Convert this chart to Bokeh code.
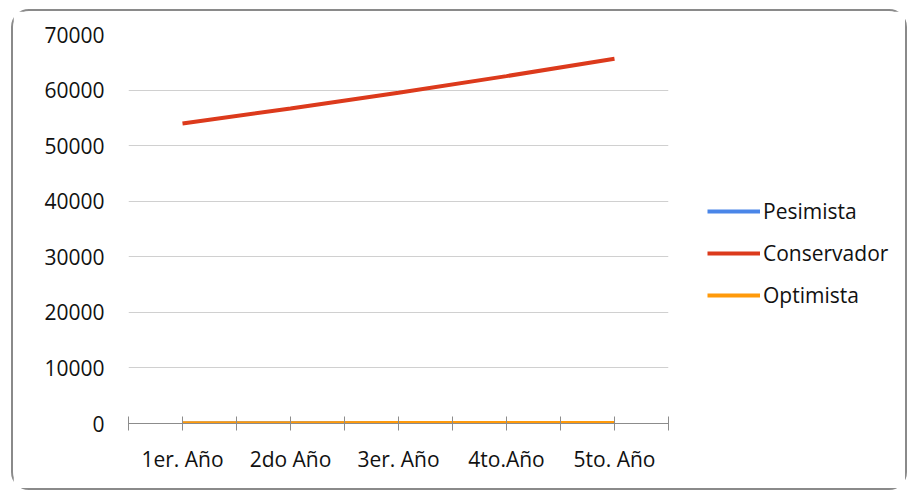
from bokeh.plotting import figure
from bokeh.models import FixedTicker, Legend, LegendItem, Range1d
from bokeh.layouts import row
from bokeh.embed import file_html
from bokeh.resources import INLINE

categories = ["1er. Año", "2do Año", "3er. Año", "4to.Año", "5to. Año"]
series_names = ["Pesimista", "Conservador", "Optimista"]
pesimista = [20, 25, 30, 35, 40]
conservador = [54000, 56700, 59535, 62512, 65637]
optimista = [60, 65, 70, 75, 80]
y_ticks = [0, 10000, 20000, 30000, 40000, 50000, 60000, 70000]
colors = ["#4A86E8", "#DC3A1C", "#FF9A0A"]

xs = list(range(1, len(categories) + 1))
series = [pesimista, conservador, optimista]
FONT = "Open Sans"
FS = "21px"

p = figure(width=677, height=477, output_backend="svg", toolbar_location=None,
           x_range=Range1d(0.5, len(categories) + 0.5), y_range=Range1d(0, 70000),
           min_border_left=115, min_border_right=22, min_border_top=23, min_border_bottom=65)
p.outline_line_color = None

for vals, col in zip(series, colors):
    p.line(xs, vals, line_color=col, line_width=4)

# x axis
half = [0.5 + i * 0.5 for i in range(2 * len(categories) + 1)]
p.xaxis.ticker = FixedTicker(ticks=half)
p.xaxis.major_label_overrides = {**{h: "" for h in half}, **{x: c for x, c in zip(xs, categories)}}
p.xaxis.axis_line_color = "#8c8c8c"
p.xaxis.major_tick_line_color = "#8c8c8c"
p.xaxis.major_tick_in = 7
p.xaxis.major_tick_out = 7
p.xaxis.minor_tick_line_color = None
p.xaxis.major_label_text_font = FONT
p.xaxis.major_label_text_font_size = FS
p.xaxis.major_label_text_color = "#111111"
p.xaxis.major_label_standoff = 14
p.xgrid.grid_line_color = None

# y axis
p.yaxis.ticker = FixedTicker(ticks=y_ticks)
p.yaxis.axis_line_color = None
p.yaxis.major_tick_line_color = None
p.yaxis.minor_tick_line_color = None
p.yaxis.major_tick_out = 0
p.yaxis.major_label_standoff = 24
p.yaxis.major_label_text_font = FONT
p.yaxis.major_label_text_font_size = FS
p.yaxis.major_label_text_color = "#111111"
p.ygrid.grid_line_color = "#d0d0d0"
p.ygrid.grid_line_width = 1

# legend panel (separate figure next to the plot; its lines lie outside its view)
lp = figure(width=215, height=477, output_backend="svg", toolbar_location=None,
            x_range=Range1d(-1, 0), y_range=Range1d(-1, 0),
            min_border_left=0, min_border_right=0, min_border_top=0, min_border_bottom=0)
lp.axis.visible = False
lp.grid.visible = False
lp.outline_line_color = None
items = []
for name, vals, col in zip(series_names, series, colors):
    r = lp.line(xs, vals, line_color=col, line_width=4)
    items.append(LegendItem(label=name, renderers=[r]))

legend = Legend(items=items, location=(17, 114), padding=0, margin=0, spacing=14,
                glyph_width=53, glyph_height=20, label_height=20, label_standoff=3,
                label_text_font=FONT, label_text_font_size=FS,
                label_text_color="#111111", border_line_color=None,
                background_fill_alpha=0)
lp.add_layout(legend, "center")

layout = row(p, lp, spacing=0)
layout.styles = {"margin-left": "11px", "margin-top": "9px", "border": "2px solid #8a8a8a",
                 "border-radius": "18px", "background-color": "white"}

open("out.html", "w").write(file_html(layout, INLINE))
